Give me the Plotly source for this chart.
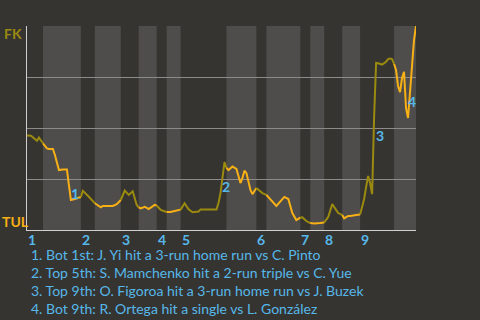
import plotly.graph_objects as go

# ---- data ----
plays = [0, 2, 5, 6, 8, 10, 11, 13, 14, 16, 18, 20, 21, 22, 24, 26, 27, 28, 31, 34,
         37, 38, 43, 45, 47, 49, 51, 53, 55, 56, 57, 59, 61, 64, 65, 67, 70, 72, 74, 77,
         79, 81, 83, 86, 87, 95, 96, 97, 98, 99, 100, 101, 103, 105, 107, 108, 109, 110, 112, 113,
         115, 116, 118, 120, 125, 129, 131, 133, 135, 137, 138, 140, 142, 144, 147, 149, 151, 153, 154, 156,
         158, 159, 161, 162, 165, 167, 168, 169, 170, 171, 172, 173, 174, 175, 176, 178, 180, 181, 182, 183,
         184, 185, 186, 187, 188, 189, 190, 191, 192, 193, 194, 195]
wp_fk = [0.463, 0.462, 0.438, 0.453, 0.425, 0.400, 0.397, 0.397, 0.368, 0.294, 0.297, 0.297, 0.221, 0.147, 0.152, 0.157, 0.162, 0.192, 0.163, 0.131,
         0.111, 0.118, 0.118, 0.127, 0.147, 0.193, 0.172, 0.190, 0.123, 0.111, 0.106, 0.114, 0.103, 0.123, 0.120, 0.098, 0.088, 0.088, 0.093, 0.100,
         0.131, 0.101, 0.087, 0.091, 0.101, 0.101, 0.132, 0.181, 0.270, 0.333, 0.304, 0.294, 0.311, 0.299, 0.230, 0.255, 0.291, 0.279, 0.196, 0.176,
         0.206, 0.196, 0.181, 0.172, 0.118, 0.162, 0.152, 0.083, 0.049, 0.061, 0.062, 0.044, 0.034, 0.032, 0.034, 0.037, 0.064, 0.127, 0.113, 0.083,
         0.074, 0.057, 0.069, 0.069, 0.074, 0.076, 0.113, 0.152, 0.211, 0.265, 0.230, 0.176, 0.554, 0.819, 0.817, 0.811, 0.825, 0.838, 0.841, 0.838,
         0.814, 0.784, 0.706, 0.676, 0.745, 0.775, 0.598, 0.549, 0.676, 0.794, 0.931, 1.0]
# play index at which each half-inning starts (top 1st ... bot 9th), plus the end
half_bounds = [0, 8, 27, 34, 47, 56, 65, 70, 77, 100, 115, 120, 137, 142, 149, 158, 167, 184, 195]
innings = ["1", "2", "3", "4", "5", "6", "7", "8", "9"]
teams = ["FK", "TUL"]
events = ["1. Bot 1st: J. Yi hit a 3-run home run vs C. Pinto",
          "2. Top 5th: S. Mamchenko hit a 2-run triple vs C. Yue",
          "3. Top 9th: O. Figoroa hit a 3-run home run vs J. Buzek",
          "4. Bot 9th: R. Ortega hit a single vs L. González"]
event_marks = ["1", "2", "3", "4"]
event_plays = [24, 100, 177, 193]
event_wp = [0.181, 0.211, 0.461, 0.632]

# ---- style ----
BG = "#363430"
BAND = "#4e4d4b"
FK_COL = "#9a8a10"
TUL_COL = "#f7b015"
BLUE = "#56b8ea"
FONT = "Lato"

fig = go.Figure()

for k in range(len(half_bounds) - 1):
    a, b = half_bounds[k], half_bounds[k + 1]
    xs = [p for p in plays if a <= p <= b]
    ys = [w for p, w in zip(plays, wp_fk) if a <= p <= b]
    fig.add_trace(go.Scatter(x=xs, y=ys, mode="lines",
                             line=dict(color=FK_COL if k % 2 == 0 else TUL_COL, width=2),
                             hoverinfo="skip", showlegend=False))

shapes = []
for k in range(1, len(half_bounds) - 1, 2):
    shapes.append(dict(type="rect", xref="x", yref="paper", x0=half_bounds[k], x1=half_bounds[k + 1],
                       y0=0, y1=1, fillcolor=BAND, line=dict(width=0), layer="below"))

annotations = []
# inning labels
for i, lab in enumerate(innings):
    annotations.append(dict(x=half_bounds[2 * i], y=0, xref="x", yref="paper", text="<b>%s</b>" % lab,
                            xanchor="left", yanchor="middle", yshift=-9, xshift=-1, showarrow=False,
                            font=dict(family=FONT, size=14, color=BLUE)))
# team labels
annotations.append(dict(x=0, y=1, xref="paper", yref="paper", text="<b>%s</b>" % teams[0], xanchor="left",
                        yanchor="middle", xshift=-25, yshift=-7, showarrow=False,
                        font=dict(family=FONT, size=14, color=FK_COL)))
annotations.append(dict(x=0, y=0, xref="paper", yref="paper", text="<b>%s</b>" % teams[1], xanchor="left",
                        yanchor="middle", xshift=-27, yshift=9, showarrow=False,
                        font=dict(family=FONT, size=14, color=TUL_COL)))
# event markers
for m, p, w in zip(event_marks, event_plays, event_wp):
    annotations.append(dict(x=p, y=w, xref="x", yref="y", text="<b>%s</b>" % m, showarrow=False,
                            xanchor="center", yanchor="middle",
                            font=dict(family=FONT, size=14, color=BLUE)))
# event descriptions
for i, t in enumerate(events):
    annotations.append(dict(x=0, y=0, xref="paper", yref="paper", text=t, xanchor="left", yanchor="middle",
                            xshift=2, yshift=-24 - 18 * i, showarrow=False,
                            font=dict(family=FONT, size=14, color=BLUE)))

fig.update_layout(
    width=480, height=320,
    margin=dict(l=27, r=64, t=26, b=90),
    paper_bgcolor=BG, plot_bgcolor=BG,
    shapes=shapes, annotations=annotations,
    xaxis=dict(range=[half_bounds[0], half_bounds[-1]], showgrid=False, zeroline=False,
               showticklabels=False, ticks="", showline=True, linecolor="#cfcfcf", linewidth=1),
    yaxis=dict(range=[0, 1], tickvals=[0.25, 0.5, 0.75, 1.0], showgrid=True, gridcolor="#8c8b89",
               gridwidth=1, zeroline=False, showticklabels=False, ticks="", showline=True,
               linecolor="#cfcfcf", linewidth=1),
)

fig.write_html("out.html", config={"displayModeBar": False})
